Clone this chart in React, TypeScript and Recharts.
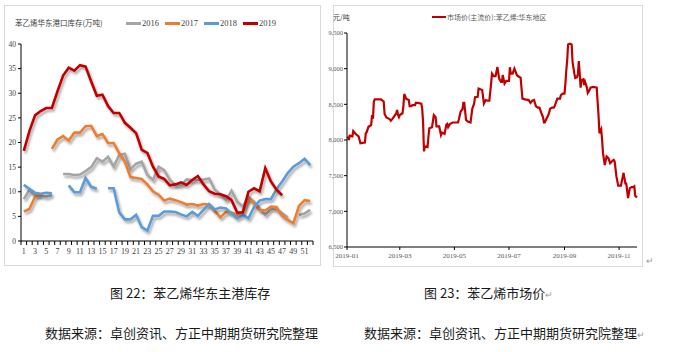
import React from 'react'
import { LineChart, Line, XAxis, YAxis, Legend } from 'recharts'

// 苯乙烯华东港口库存（万吨），按周
const weeks = [
  1, 2, 3, 4, 5, 6, 7, 8, 9, 10, 11, 12, 13, 14, 15, 16, 17, 18, 19, 20, 21, 22, 23, 24, 25, 26,
  27, 28, 29, 30, 31, 32, 33, 34, 35, 36, 37, 38, 39, 40, 41, 42, 43, 44, 45, 46, 47, 48, 49, 50, 51, 52,
]
const inv2016 = [
  8.5, 10.4, 9.3, 9.3, 9.0, 9.4, null, 13.6, 13.6, 13.4, 13.5, 14.2, 15.0, 16.8, 16.1, 17.1, 15.1, 17.5, 17.7, 14.6, 15.7, 16.1, 13.4, 12.4, 15.1, 14.4,
  12.4, 11.4, 11.4, 12.5, 12.4, 12.4, 12.5, 12.7, 10.4, 9.5, 8.3, 10.2, 8.0, 7.0, 9.0, 8.0, 6.6, 5.3, 6.6, 6.4, 5.6, 4.8, null, 5.3, 5.6, 6.3,
]
const inv2017 = [
  6.0, 6.5, 9.0, 9.4, null, 18.7, 20.6, 21.3, 20.4, 22.0, 22.0, 23.3, 23.4, 21.3, 21.7, 19.9, 19.9, 17.8, 16.1, 13.0, 12.8, 12.6, 11.5, 10.1, 9.4, 8.2,
  8.6, 8.3, 7.9, 7.4, 7.5, 7.2, 7.5, 7.4, 6.1, 4.8, 5.9, 5.8, 5.3, 5.9, 8.7, 7.7, 6.3, 6.2, 7.0, 6.9, 5.1, 4.3, 3.6, 7.1, 8.3, 8.1,
]
const inv2018 = [
  11.4, 10.6, 9.8, 9.6, 9.8, 9.7, null, null, 11.3, 9.9, 9.9, 12.8, 11.0, 10.6, null, 10.7, 10.7, 5.8, 4.4, 4.4, 5.3, 2.8, 2.1, 5.1, 5.1, 6.0,
  6.0, 5.9, 5.4, 5.0, 5.9, 5.1, 6.3, 7.5, 6.4, 6.8, 6.6, 5.6, 4.6, 5.3, 4.6, 6.9, 8.2, 8.5, 8.5, 10.5, 12.1, 13.8, 15.1, 15.8, 16.7, 15.4,
]
const inv2019 = [
  18.3, 22.3, 25.5, 26.4, 27.0, 27.0, 30.4, 33.6, 35.2, 34.6, 35.7, 35.4, 32.4, 29.5, 29.7, 27.4, 26.0, 26.0, 24.0, 23.0, 21.9, 18.5, 17.9, 15.1, 13.1, 12.6,
  11.3, 11.5, 11.9, 11.4, 12.4, 13.2, 11.5, 10.1, 9.6, 9.5, 9.1, 8.3, 5.8, 5.8, 10.0, 10.7, 10.1, 14.8, 12.1, 10.4, 9.3, null, null, null, null, null,
]
const invTicks = [0, 5, 10, 15, 20, 25, 30, 35, 40]

// 市场价(主流价):苯乙烯:华东地区，元/吨
const priceDates = [
  '2019-01-02', '2019-01-03', '2019-01-04', '2019-01-07', '2019-01-08', '2019-01-11', '2019-01-14', '2019-01-16', '2019-01-18', '2019-01-21',
  '2019-01-22', '2019-01-23', '2019-01-25', '2019-01-28', '2019-01-29', '2019-01-30', '2019-01-31', '2019-02-01', '2019-02-08', '2019-02-11',
  '2019-02-12', '2019-02-14', '2019-02-18', '2019-02-19', '2019-02-21', '2019-02-25', '2019-02-26', '2019-02-27', '2019-02-28', '2019-03-01',
  '2019-03-04', '2019-03-05', '2019-03-06', '2019-03-08', '2019-03-11', '2019-03-12', '2019-03-14', '2019-03-15', '2019-03-18', '2019-03-19',
  '2019-03-21', '2019-03-25', '2019-03-26', '2019-03-27', '2019-03-28', '2019-03-29', '2019-04-01', '2019-04-02', '2019-04-03', '2019-04-06',
  '2019-04-08', '2019-04-10', '2019-04-11', '2019-04-14', '2019-04-16', '2019-04-17', '2019-04-20', '2019-04-22', '2019-04-23', '2019-04-24',
  '2019-04-26', '2019-04-29', '2019-05-02', '2019-05-05', '2019-05-06', '2019-05-08', '2019-05-10', '2019-05-11', '2019-05-12', '2019-05-14',
  '2019-05-16', '2019-05-19', '2019-05-21', '2019-05-23', '2019-05-24', '2019-05-27', '2019-05-28', '2019-05-30', '2019-06-01', '2019-06-03',
  '2019-06-05', '2019-06-07', '2019-06-09', '2019-06-11', '2019-06-12', '2019-06-14', '2019-06-16', '2019-06-18', '2019-06-20', '2019-06-22',
  '2019-06-23', '2019-06-24', '2019-06-26', '2019-06-28', '2019-07-01', '2019-07-02', '2019-07-03', '2019-07-05', '2019-07-07', '2019-07-10',
  '2019-07-13', '2019-07-14', '2019-07-16', '2019-07-19', '2019-07-23', '2019-07-25', '2019-07-27', '2019-07-29', '2019-07-31', '2019-08-02',
  '2019-08-04', '2019-08-07', '2019-08-08', '2019-08-09', '2019-08-10', '2019-08-12', '2019-08-14', '2019-08-16', '2019-08-18', '2019-08-20',
  '2019-08-21', '2019-08-24', '2019-08-27', '2019-08-28', '2019-08-30', '2019-09-01', '2019-09-02', '2019-09-03', '2019-09-04', '2019-09-05',
  '2019-09-07', '2019-09-09', '2019-09-10', '2019-09-12', '2019-09-13', '2019-09-15', '2019-09-16', '2019-09-17', '2019-09-18', '2019-09-19',
  '2019-09-20', '2019-09-22', '2019-09-23', '2019-09-24', '2019-09-26', '2019-09-27', '2019-09-29', '2019-09-30', '2019-10-03', '2019-10-07',
  '2019-10-08', '2019-10-09', '2019-10-10', '2019-10-12', '2019-10-13', '2019-10-14', '2019-10-16', '2019-10-18', '2019-10-20', '2019-10-22',
  '2019-10-24', '2019-10-26', '2019-10-27', '2019-10-29', '2019-10-31', '2019-11-03', '2019-11-06', '2019-11-08', '2019-11-09', '2019-11-11',
  '2019-11-13', '2019-11-15', '2019-11-17', '2019-11-18', '2019-11-19', '2019-11-21',
]
const priceValues = [
  8050, 8000, 8060, 8050, 8125, 8080, 8050, 7955, 7960, 7965,
  8095, 8110, 8185, 8210, 8350, 8300, 8540, 8570, 8570, 8540,
  8365, 8315, 8290, 8270, 8300, 8375, 8420, 8350, 8320, 8350,
  8375, 8475, 8645, 8580, 8560, 8475, 8475, 8490, 8490, 8520,
  8520, 8510, 8440, 8250, 7840, 7910, 7900, 8050, 8165, 8180,
  8350, 8320, 8190, 8190, 8070, 8105, 8085, 8215, 8225, 8180,
  8225, 8245, 8245, 8245, 8290, 8400, 8430, 8520, 8520, 8280,
  8260, 8245, 8440, 8510, 8600, 8605, 8720, 8710, 8700, 8510,
  8560, 8550, 8550, 8790, 8930, 8895, 8895, 9025, 8860, 8815,
  8815, 8910, 8790, 8830, 8830, 9020, 8930, 8930, 9000, 8905,
  8880, 8870, 8580, 8570, 8560, 8520, 8550, 8560, 8475, 8455,
  8455, 8350, 8320, 8245, 8245, 8300, 8350, 8440, 8455, 8455,
  8475, 8580, 8580, 8630, 8650, 8650, 8790, 8975, 9115, 9340,
  9350, 9340, 9095, 8930, 8870, 8880, 8930, 9105, 8930, 8735,
  8840, 8850, 8770, 8815, 8735, 8660, 8700, 8735, 8745, 8735,
  8535, 8350, 8095, 8150, 8000, 7815, 7650, 7770, 7745, 7675,
  7700, 7720, 7700, 7490, 7360, 7360, 7540, 7390, 7390, 7185,
  7325, 7340, 7340, 7350, 7220, 7195,
]
const priceTickLabels = ['2019-01', '2019-03', '2019-05', '2019-07', '2019-09', '2019-11']
const priceTicks = [6500, 7000, 7500, 8000, 8500, 9000, 9500]

const toTime = (s: string) => {
  const [y, m, d] = s.split('-').map(Number)
  return Date.UTC(y, m - 1, d || 1)
}

const invData = weeks.map((w, i) => ({
  week: w, y2016: inv2016[i], y2017: inv2017[i], y2018: inv2018[i], y2019: inv2019[i],
}))
const priceData = priceDates.map((d, i) => ({ t: toTime(d), price: priceValues[i] }))

const serif = '"Liberation Serif", "Times New Roman", serif'
const cjk = '"Noto Sans CJK SC", sans-serif'
const series = [
  { key: 'y2016', name: '2016', color: '#a5a5a5' },
  { key: 'y2017', name: '2017', color: '#ed7d31' },
  { key: 'y2018', name: '2018', color: '#5b9bd5' },
  { key: 'y2019', name: '2019', color: '#c00000' },
]

const half = 2.8

const WeekTick = ({ x, y, payload, index }: any) => (
  <g>
    <line x1={x + half} x2={x + half} y1={y - 8} y2={y - 4} stroke="#000" />
    {index === 0 && <line x1={x - half} x2={x - half} y1={y - 8} y2={y - 4} stroke="#000" />}
    {payload.value % 2 === 1 && (
      <text x={x} y={y + 5} textAnchor="middle" fontSize={8} fontFamily={serif} fill="#404040">
        {payload.value}
      </text>
    )}
  </g>
)

const InvLegend = () => (
  <div style={{ display: 'flex', fontFamily: serif, fontSize: 8.5, color: '#404040', whiteSpace: 'nowrap' }}>
    {series.map(s => (
      <div key={s.key} style={{ display: 'flex', alignItems: 'center', marginRight: 6 }}>
        <span style={{ display: 'inline-block', width: 15, height: 3, background: s.color, marginRight: 1 }} />
        {s.name}
      </div>
    ))}
  </div>
)

const PriceLegend = () => (
  <div style={{ display: 'flex', alignItems: 'center', fontFamily: cjk, fontSize: 7, color: '#595959', whiteSpace: 'nowrap' }}>
    <span style={{ display: 'inline-block', width: 14, height: 2.5, background: '#c00000', marginRight: 1 }} />
    市场价(主流价):苯乙烯:华东地区
  </div>
)

const caption: React.CSSProperties = {
  position: 'absolute', fontFamily: cjk, fontSize: 13, color: '#1a1a1a', whiteSpace: 'nowrap', lineHeight: '16px',
}
const mark = <span style={{ color: '#999', fontSize: 9 }}>↵</span>

export default function App() {
  return (
    <div style={{ position: 'absolute', left: 0, top: 0, width: 684, height: 352, background: '#fff', overflow: 'hidden' }}>
      <div style={{ position: 'absolute', left: 4, top: 5, width: 317, height: 261, border: '1px solid #d9d9d9', boxSizing: 'border-box' }} />
      <div style={{ position: 'absolute', left: 333, top: 5, width: 310, height: 262, border: '1px solid #d9d9d9', boxSizing: 'border-box' }} />

      <div style={{ position: 'absolute', left: 15, top: 17, fontFamily: cjk, fontSize: 7.5, color: '#404040', whiteSpace: 'nowrap' }}>
        苯乙烯华东港口库存(万吨)
      </div>

      <div style={{ position: 'absolute', left: 0, top: 0 }}>
        <LineChart width={330} height={270} data={invData} margin={{ top: 44, right: 17, left: 0, bottom: 0 }}>
          <defs>
            <filter id="lineShadow" x="-10%" y="-10%" width="120%" height="130%">
              <feDropShadow dx="1.5" dy="2.5" stdDeviation="1.2" floodColor="#000" floodOpacity="0.35" />
            </filter>
          </defs>
          <XAxis
            dataKey="week"
            interval={0}
            padding={{ left: half, right: half }}
            height={29}
            tickSize={4}
            tickMargin={4}
            tickLine={false}
            axisLine={{ stroke: '#000' }}
            tick={<WeekTick />}
          />
          <YAxis
            width={21}
            domain={[0, 40]}
            ticks={invTicks}
            interval={0}
            tickSize={3}
            tickMargin={2}
            axisLine={{ stroke: '#000' }}
            tickLine={{ stroke: '#000' }}
            tick={{ fontSize: 7.5, fontFamily: serif, fill: '#404040' }}
          />
          <Legend
            layout="horizontal"
            verticalAlign="middle"
            align="center"
            content={<InvLegend />}
            wrapperStyle={{ position: 'absolute', left: 126, top: 18, width: 200 }}
          />
          {series.map(s => (
            <Line
              key={s.key}
              type="linear"
              dataKey={s.key}
              name={s.name}
              stroke={s.color}
              strokeWidth={2.6}
              dot={false}
              connectNulls={false}
              filter="url(#lineShadow)"
              isAnimationActive={false}
            />
          ))}
        </LineChart>
      </div>

      <div style={{ position: 'absolute', left: 333, top: 12, fontFamily: cjk, fontSize: 7, color: '#404040', whiteSpace: 'nowrap' }}>
        元/吨
      </div>

      <div style={{ position: 'absolute', left: 325, top: 0 }}>
        <LineChart width={359} height={270} data={priceData} margin={{ top: 33, right: 47, left: 0, bottom: 0 }}>
          <XAxis
            dataKey="t"
            type="number"
            domain={[toTime('2019-01-01'), toTime('2019-11-21')]}
            ticks={priceTickLabels.map(toTime)}
            interval={0}
            height={23}
            tickSize={3}
            tickMargin={3}
            axisLine={{ stroke: '#000' }}
            tickLine={{ stroke: '#000' }}
            tickFormatter={(v: number) => priceTickLabels[priceTickLabels.map(toTime).indexOf(v)]}
            tick={{ fontSize: 7, fontFamily: serif, fill: '#595959' }}
          />
          <YAxis
            width={22}
            domain={[6500, 9500]}
            ticks={priceTicks}
            interval={0}
            tickSize={3}
            tickMargin={1}
            axisLine={{ stroke: '#000' }}
            tickLine={{ stroke: '#000' }}
            tickFormatter={(v: number) => v.toLocaleString('en-US')}
            tick={{ fontSize: 6.5, fontFamily: serif, fill: '#595959' }}
          />
          <Legend
            layout="horizontal"
            verticalAlign="middle"
            align="center"
            content={<PriceLegend />}
            wrapperStyle={{ position: 'absolute', left: 107, top: 12, width: 200 }}
          />
          <Line
            type="linear"
            dataKey="price"
            stroke="#c00000"
            strokeWidth={2.2}
            dot={false}
            isAnimationActive={false}
          />
        </LineChart>
      </div>

      <div style={{ position: 'absolute', left: 646, top: 256, color: '#999', fontSize: 9 }}>↵</div>

      <div style={{ ...caption, left: 110, top: 285 }}>图 22：苯乙烯华东主港库存</div>
      <div style={{ ...caption, left: 424, top: 285 }}>图 23：苯乙烯市场价{mark}</div>
      <div style={{ ...caption, left: 45, top: 325 }}>数据来源：卓创资讯、方正中期期货研究院整理</div>
      <div style={{ ...caption, left: 364, top: 325 }}>数据来源：卓创资讯、方正中期期货研究院整理{mark}</div>
    </div>
  )
}
